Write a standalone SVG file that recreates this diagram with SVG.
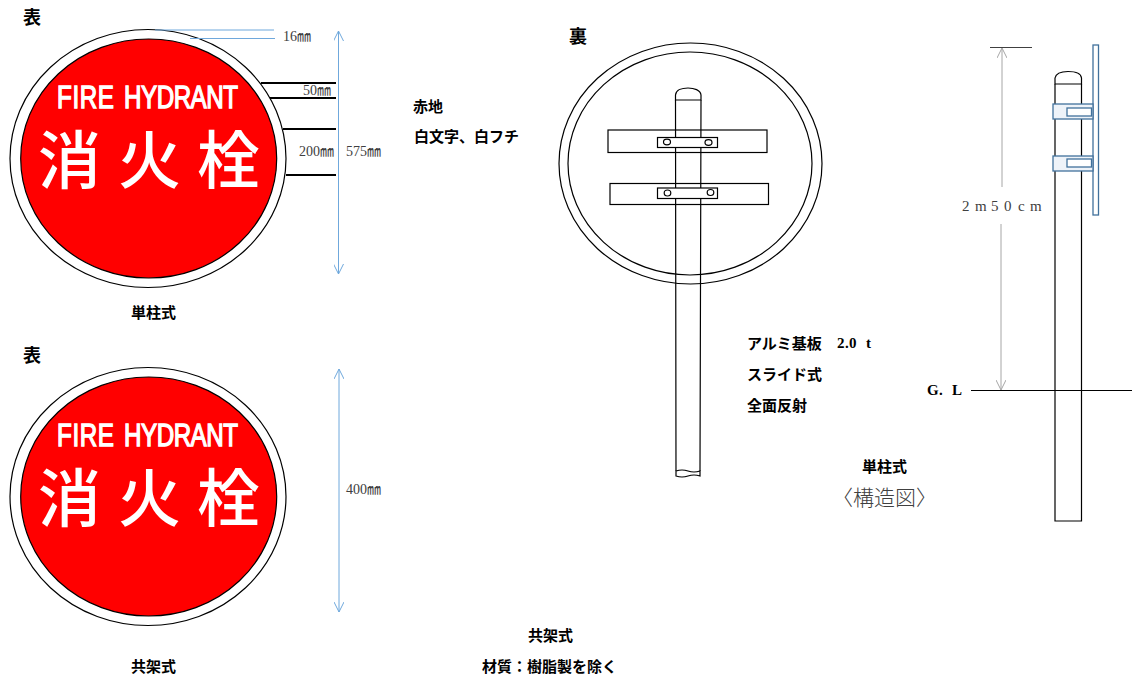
<svg xmlns="http://www.w3.org/2000/svg" width="1132" height="680" viewBox="0 0 1132 680">
<style>
.lb{font-family:"Noto Sans CJK JP",sans-serif;font-size:15px;font-weight:700;fill:#000}
.hd{font-size:18px}
.ser{font-family:"Liberation Serif",serif;font-size:15px;font-weight:700;fill:#000}
.dim{font-family:"Liberation Serif","Noto Sans CJK JP",serif;font-size:14px;fill:#404040}
.ln{fill:none;stroke:#000;stroke-width:1.2}
.wh{fill:#fff;stroke:#000;stroke-width:1.2}
.bl{fill:none;stroke:#6fa8dc;stroke-width:1}
.th{fill:none;stroke:#000;stroke-width:2}
.gr{fill:none;stroke:#a6a6a6;stroke-width:1}
.st{fill:#eef3f9;stroke:#41719c;stroke-width:1.3}
.pl{fill:#fff;stroke:#41719c;stroke-width:1.3}
.en{font-family:"Liberation Sans",sans-serif;font-size:31px;fill:#fff;stroke:#fff;stroke-width:1.4}
.kj{font-family:"Noto Sans CJK JP",sans-serif;font-size:63px;font-weight:500;fill:#fff}
</style>
<defs>
<g id="sign">
<ellipse cx="148" cy="158.500" rx="138" ry="129" class="wh"/>
<ellipse cx="148.700" cy="158.500" rx="128" ry="119.500" fill="#f00" stroke="#000" stroke-width="1.200"/>
<g transform="translate(57 108) scale(.78 1)">
<text x="0" y="0" class="en" textLength="73">FIRE</text>
<text x="86" y="0" class="en" textLength="146">HYDRANT</text>
</g>
<text y="183" class="kj" x="38 118 197">消火栓</text>
</g>
<marker id="op" viewBox="0 0 10 10" refX="10" refY="5" markerWidth="10" markerHeight="10" orient="auto-start-reverse" markerUnits="userSpaceOnUse"><path d="M0 0L10 5L0 10" fill="none" stroke="context-stroke" stroke-width="1"/></marker>
</defs>

<g id="sign-front-single"><use href="#sign"/></g>
<g id="sign-front-shared"><use href="#sign" y="338"/></g>

<g id="sign-back">
<ellipse cx="690.500" cy="163.500" rx="131.500" ry="120.500" class="wh"/>
<ellipse cx="690" cy="163.500" rx="122" ry="111.500" class="ln"/>
<path d="M675.500 100V95C676 90 682 88 688 88C694 88 700.500 90 701 95V100Z" class="ln"/>
<path d="M675.500 100L676 471M701 100L700 471" class="ln"/>
<path d="M676 471Q682 469 688 471T700 471V476Q694 474 688 476T676 476Z" class="ln"/>
<rect x="608" y="130" width="159" height="22.500" class="ln"/>
<rect x="610" y="183.500" width="158.500" height="21" class="ln"/>
<rect x="657.500" y="137.500" width="60" height="10" class="wh"/>
<rect x="657.500" y="188" width="60" height="10.500" class="wh"/>
<ellipse cx="667" cy="142" rx="3.500" ry="2.800" class="wh"/>
<ellipse cx="708.500" cy="142.500" rx="3.500" ry="2.800" class="wh"/>
<ellipse cx="667.500" cy="193" rx="3.300" ry="3" class="wh"/>
<ellipse cx="710.500" cy="192.500" rx="3.300" ry="3" class="wh"/>
</g>

<g id="side-view">
<path d="M1055 84V78C1056 73 1062 71.500 1068 71.500C1075 71.500 1081 73 1081.500 78V84Z" class="ln"/>
<path d="M1055 84V521H1081.500V84" class="ln"/>
<rect x="1093" y="45" width="5.500" height="170" class="pl"/>
<rect x="1053" y="104" width="40" height="15" class="st"/>
<rect x="1067" y="108" width="24.500" height="8" class="pl"/>
<rect x="1053" y="156" width="40" height="15" class="st"/>
<rect x="1067" y="159" width="24.500" height="8" class="pl"/>
</g>

<g id="connectors">
<path d="M155 30H274M190 38.500H275" class="bl"/>
<path d="M338.500 31V274" class="bl" marker-start="url(#op)" marker-end="url(#op)"/>
<path d="M339 369V612" class="bl" marker-start="url(#op)" marker-end="url(#op)"/>
<path d="M261 83H336M270 98H336M283 129H336M286 175H336" class="th"/>
<path d="M990 47.500H1032" fill="none" stroke="#404040" stroke-width="1"/>
<path d="M1002 187V48" class="gr" marker-end="url(#op)"/>
<path d="M1001 224V390" class="gr" marker-end="url(#op)"/>
<path d="M971 390.500H1132" fill="none" stroke="#000" stroke-width="1"/>
</g>

<g id="labels">
<text x="23" y="24" class="lb hd">表</text>
<text x="23" y="362" class="lb hd">表</text>
<text x="569" y="43" class="lb hd">裏</text>
<text x="283" y="41" class="dim">16㎜</text>
<text x="303" y="95" class="dim">50㎜</text>
<text x="299" y="156" class="dim">200㎜</text>
<text x="346" y="156" class="dim">575㎜</text>
<text x="346" y="494" class="dim">400㎜</text>
<text x="413" y="111.500" class="lb">赤地</text>
<text x="414" y="142" class="lb">白文字、白フチ</text>
<text x="131" y="317.500" class="lb">単柱式</text>
<text x="131" y="671.500" class="lb">共架式</text>
<text x="528" y="640.500" class="lb">共架式</text>
<text x="482" y="671.500" class="lb">材質：樹脂製を除く</text>
<text x="747" y="348.500" class="lb">アルミ基板</text>
<text y="348" class="ser" x="837 845 849 857 866">2.0 t</text>
<text x="747" y="379.500" class="lb">スライド式</text>
<text x="747" y="410.500" class="lb">全面反射</text>
<text x="862" y="471.500" class="lb">単柱式</text>
<text x="832" y="505" font-family="'Noto Sans CJK JP',sans-serif" font-size="21" font-weight="300" fill="#404040">〈構造図〉</text>
<text y="395" class="ser" x="927 939 945 952">G. L</text>
<text y="211" class="dim" style="font-size:15px" x="962 975 991 1004 1018 1030">2m50cm</text>
</g>
</svg>
